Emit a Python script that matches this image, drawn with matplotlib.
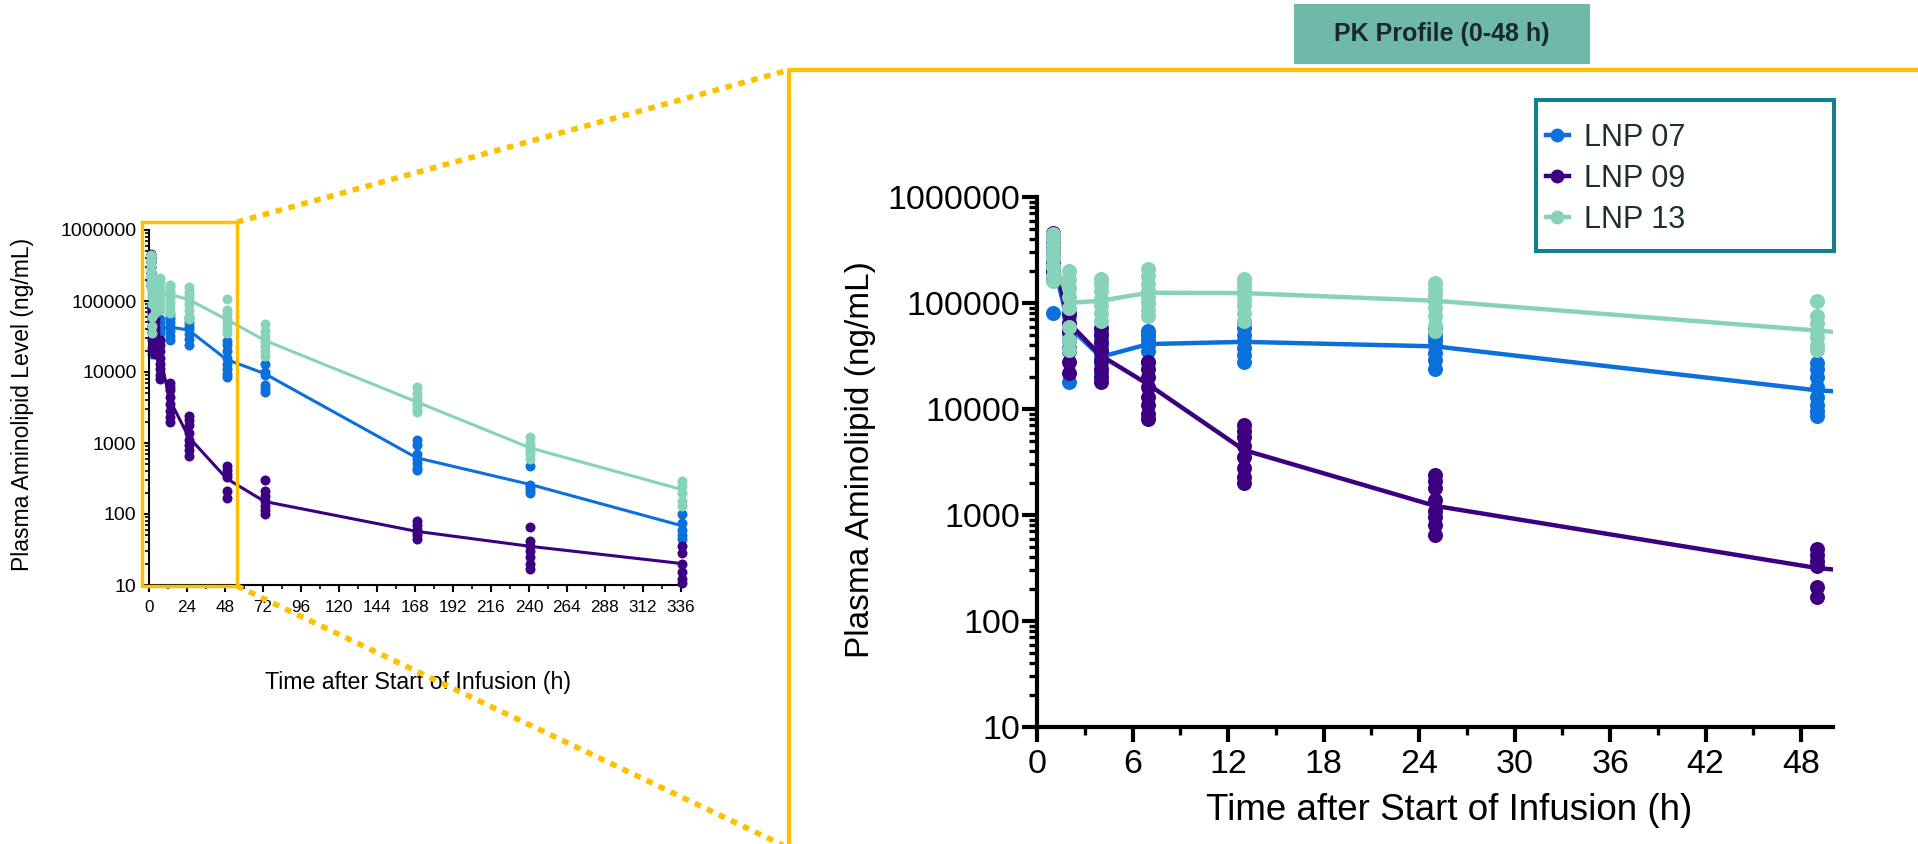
import numpy as np
import matplotlib
matplotlib.use("Agg")
import matplotlib.pyplot as plt
from matplotlib.lines import Line2D
from matplotlib.patches import Rectangle
from matplotlib.ticker import LogLocator, NullFormatter, FuncFormatter, MultipleLocator

plt.rcParams['font.family'] = ['Liberation Sans', 'DejaVu Sans']

W, H = 1918, 844

# sampling times (h after start of infusion)
times = [1, 2, 4, 7, 13, 25, 49, 73, 169, 241, 337]
groups = ['LNP 07', 'LNP 09', 'LNP 13']
colors = ['#0b6fdc', '#3d0080', '#86d3b9']

# line values (central tendency) per group
lnp07_mean = [250000, 60000, 31000, 41000, 43000, 39000, 15000, 9500, 620, 260, 68]
lnp09_mean = [300000, 65000, 32000, 17000, 4100, 1220, 316, 150, 57, 35, 20]
lnp13_mean = [290000, 100000, 105000, 125000, 124000, 105000, 55000, 28000, 3800, 850, 220]

# individual animals per time point
lnp07_pts = [
    [400000, 350000, 300000, 260000, 220000, 190000, 81000],
    [75000, 60000, 52000, 45000, 38000, 18000],
    [52000, 45000, 38000, 32000, 27000, 22000],
    [55000, 50000, 45000, 40000, 35000, 28000],
    [66000, 58000, 50000, 44000, 38000, 32000, 28000],
    [57000, 50000, 45000, 40000, 34000, 29000, 24000],
    [27000, 24000, 20000, 16000, 13000, 11000, 9500, 8500],
    [13000, 10000, 9000, 6500, 5800, 5300],
    [1100, 950, 700, 600, 520, 450, 420],
    [480, 260, 240, 220, 200],
    [100, 75, 60, 50, 45],
]
lnp09_pts = [
    [460000, 400000, 350000, 300000, 250000, 200000, 170000],
    [80000, 65000, 55000, 45000, 35000, 28000, 22000],
    [58000, 50000, 42000, 35000, 29000, 24000, 20000, 18000],
    [28000, 24000, 20000, 16000, 13000, 11000, 9000, 8000],
    [7000, 6200, 5500, 4500, 3500, 2800, 2300, 2000],
    [2400, 2100, 1800, 1400, 1100, 950, 800, 650],
    [480, 420, 370, 330, 210, 170],
    [300, 210, 180, 150, 130, 115, 100],
    [80, 70, 60, 55, 50, 45],
    [65, 42, 35, 30, 25, 20, 17],
    [35, 28, 20, 15, 12, 10.5],
]
lnp13_pts = [
    [450000, 400000, 350000, 300000, 260000, 220000, 180000, 160000],
    [200000, 170000, 140000, 115000, 90000, 60000, 45000, 36000],
    [170000, 150000, 130000, 110000, 95000, 80000, 68000],
    [210000, 180000, 150000, 130000, 115000, 100000, 85000, 75000],
    [170000, 155000, 140000, 125000, 110000, 95000, 80000, 68000],
    [155000, 135000, 120000, 105000, 90000, 75000, 62000, 55000],
    [105000, 75000, 65000, 55000, 48000, 40000, 36000],
    [48000, 38000, 32000, 27000, 23000, 20000, 17000],
    [6200, 5000, 4300, 3800, 3400, 3000, 2700],
    [1200, 1000, 900, 800, 700, 600],
    [290, 250, 200, 150, 130],
]

means = [lnp07_mean, lnp09_mean, lnp13_mean]
points = [lnp07_pts, lnp09_pts, lnp13_pts]

small_xticks = list(range(0, 337, 24))
big_xticks = list(range(0, 49, 6))

yellow = '#ffc000'


def fx(x):
    return x / W


def fy(y):
    return 1 - y / H


fig = plt.figure(figsize=(W / 100, H / 100), dpi=100)
ax_s = fig.add_axes([fx(149), fy(585), (684 - 149) / W, (585 - 230) / H])
ax_b = fig.add_axes([fx(1037), fy(727), (1833 - 1037) / W, (727 - 197) / H])


def draw(ax, lw, ms, clip):
    for g in range(3):
        ax.plot(times, means[g], color=colors[g], lw=lw, zorder=2 + g)
        for t, vals in zip(times, points[g]):
            ax.plot([t] * len(vals), vals, 'o', color=colors[g], ms=ms,
                    mec='none', zorder=2 + g, clip_on=clip)


def style(ax, spine_w, maj_len, min_len, tick_w, xls, yls, xpad, ypad):
    ax.set_yscale('log')
    ax.set_ylim(10, 1e6)
    for s in ['top', 'right']:
        ax.spines[s].set_visible(False)
    for s in ['left', 'bottom']:
        ax.spines[s].set_linewidth(spine_w)
    ax.yaxis.set_major_locator(LogLocator(base=10, numticks=10))
    ax.yaxis.set_minor_locator(LogLocator(base=10, subs=np.arange(2, 10), numticks=30))
    ax.yaxis.set_minor_formatter(NullFormatter())
    ax.yaxis.set_major_formatter(FuncFormatter(lambda v, p: f'{int(round(v))}'))
    ax.tick_params(which='major', direction='out', length=maj_len, width=tick_w)
    ax.tick_params(which='minor', direction='out', length=min_len, width=tick_w * 0.8)
    ax.tick_params(axis='x', which='major', labelsize=xls, pad=xpad)
    ax.tick_params(axis='y', which='major', labelsize=yls, pad=ypad)


# small overview chart
draw(ax_s, 2.2, 7.2, False)
style(ax_s, 1.5, 5, 3, 1.5, 12.3, 14, 6, 4)
ax_s.set_xlim(0, 338)
ax_s.set_xticks(small_xticks)
ax_s.xaxis.set_minor_locator(MultipleLocator(12))
ax_s.set_xlabel('Time after Start of Infusion (h)', fontsize=16.7, va='center')
ax_s.xaxis.set_label_coords(0.503, -0.275)
ax_s.set_ylabel('Plasma Aminolipid Level (ng/mL)', fontsize=16.5, va='center')
ax_s.yaxis.set_label_coords(-0.236, 0.51)

# zoomed 0-48 h chart
draw(ax_b, 3.2, 10.8, True)
style(ax_b, 3, 11, 6, 3, 24.5, 24.5, 4.5, 1)
ax_b.set_xlim(0, 50)
ax_b.set_xticks(big_xticks)
ax_b.xaxis.set_minor_locator(MultipleLocator(3))
ax_b.set_xlabel('Time after Start of Infusion (h)', fontsize=26.5, va='center')
ax_b.xaxis.set_label_coords(0.518, -0.157)
ax_b.set_ylabel('Plasma Aminolipid (ng/mL)', fontsize=24, va='center')
ax_b.yaxis.set_label_coords(-0.222, 0.504)

# yellow zoom frame, box and dotted connectors
fig.add_artist(Rectangle((fx(142), fy(586)), (237 - 142) / W, (586 - 222) / H,
                         transform=fig.transFigure, fill=False, ec=yellow, lw=2.5, zorder=10))
fig.add_artist(Line2D([fx(789), fx(789), fx(1930)], [fy(860), fy(70), fy(70)],
                      transform=fig.transFigure, color=yellow, lw=3, zorder=10))
for y0, y1 in [(222, 70), (586, 848)]:
    fig.add_artist(Line2D([fx(237), fx(789)], [fy(y0), fy(y1)], transform=fig.transFigure,
                          color=yellow, lw=4, ls=(0, (1.2, 1.2)), dash_capstyle='butt', zorder=10))

# title badge
fig.add_artist(Rectangle((fx(1294), fy(64)), (1590 - 1294) / W, 60 / H,
                         transform=fig.transFigure, fc='#6fb9a8', ec='none', zorder=10))
fig.text(fx(1442), fy(34), 'PK Profile (0-48 h)', ha='center', va='center',
         fontsize=18, fontweight='bold', color='#1a2828', zorder=11)

# legend box
fig.add_artist(Rectangle((fx(1536), fy(251)), (1834 - 1536) / W, (251 - 100) / H,
                         transform=fig.transFigure, fc='white', ec='#12808f', lw=2.9, zorder=10))
handles = [Line2D([0], [0], color=c, lw=3.2, marker='o', ms=10, mec='none') for c in colors]
leg = fig.legend(handles, groups, loc='upper left', bbox_to_anchor=(fx(1546), fy(123)),
                 frameon=False, fontsize=22, handlelength=0.75, handletextpad=0.5,
                 labelspacing=0.36, borderpad=0, borderaxespad=0)
leg.set_zorder(12)
for t in leg.get_texts():
    t.set_color('#1d2f2f')

fig.savefig('out.png', dpi=100)
